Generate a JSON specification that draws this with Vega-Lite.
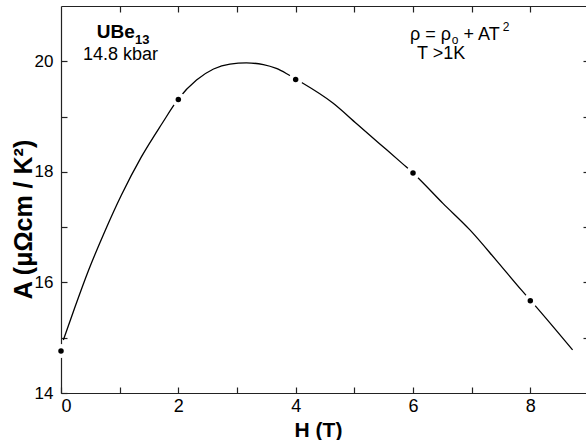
{
  "$schema": "https://vega.github.io/schema/vega-lite/v6.json",
  "width": 528,
  "height": 387,
  "autosize": {"type": "none"},
  "padding": {"left": 61, "top": 6, "right": 0, "bottom": 47},
  "background": "white",
  "config": {
    "view": {"stroke": null},
    "font": "Liberation Sans",
    "axis": {
      "domainColor": "#222",
      "domainWidth": 1.2,
      "tickColor": "#222",
      "tickWidth": 1.2,
      "grid": false,
      "labelFont": "Liberation Sans",
      "labelFontSize": 18,
      "labelColor": "black",
      "titleFont": "Liberation Sans",
      "titleColor": "black"
    }
  },
  "datasets": {
    "curve": [
      {"h": 0.04, "A": 14.96}, {"h": 0.24, "A": 15.56}, {"h": 0.47, "A": 16.22},
      {"h": 0.75, "A": 16.93}, {"h": 1.03, "A": 17.58}, {"h": 1.37, "A": 18.27},
      {"h": 1.72, "A": 18.87}, {"h": 2.0, "A": 19.32}, {"h": 2.31, "A": 19.66},
      {"h": 2.6, "A": 19.86}, {"h": 2.88, "A": 19.95}, {"h": 3.16, "A": 19.97},
      {"h": 3.45, "A": 19.94}, {"h": 3.67, "A": 19.87}, {"h": 3.84, "A": 19.78},
      {"h": 4.0, "A": 19.68}, {"h": 4.64, "A": 19.24}, {"h": 5.04, "A": 18.87},
      {"h": 5.43, "A": 18.51}, {"h": 5.83, "A": 18.14}, {"h": 6.0, "A": 17.98},
      {"h": 6.51, "A": 17.43}, {"h": 6.97, "A": 16.95}, {"h": 7.42, "A": 16.4},
      {"h": 7.85, "A": 15.86}, {"h": 8.0, "A": 15.68}, {"h": 8.72, "A": 14.78}
    ],
    "measured": [
      {"h": 0, "A": 14.76}, {"h": 2, "A": 19.31}, {"h": 4, "A": 19.67},
      {"h": 6, "A": 17.98}, {"h": 8, "A": 15.67}
    ]
  },
  "layer": [
    {
      "data": {"name": "curve"},
      "mark": {"type": "line", "color": "black", "strokeWidth": 1.3, "interpolate": "monotone"},
      "encoding": {
        "x": {
          "field": "h", "type": "quantitative",
          "scale": {"domain": [0, 9], "nice": false, "zero": false},
          "axis": {
            "orient": "bottom",
            "values": [0, 1, 2, 3, 4, 5, 6, 7, 8],
            "labelExpr": "datum.value % 2 === 0 ? datum.label : ''",
            "tickSize": -6,
            "labelPadding": 10,
            "title": "H (T)",
            "titleFontSize": 21,
            "titleFontWeight": "bold",
            "titleX": 257,
            "titleY": 43,
            "titleBaseline": "alphabetic"
          }
        },
        "y": {
          "field": "A", "type": "quantitative",
          "scale": {"domain": [14, 21], "nice": false, "zero": false},
          "axis": {
            "orient": "left",
            "values": [14, 15, 16, 17, 18, 19, 20],
            "labelExpr": "datum.value % 2 === 0 ? datum.label : ''",
            "labelFontSize": 17,
            "tickSize": -6,
            "labelPadding": 14,
            "title": "A (μΩcm / K²)",
            "titleFontSize": 25,
            "titleFontWeight": "bold",
            "titleAngle": -90,
            "titleX": -30,
            "titleY": 213,
            "titleAlign": "center",
            "titleBaseline": "alphabetic"
          }
        }
      }
    },
    {
      "data": {"name": "measured"},
      "mark": {"type": "point", "filled": true, "shape": "circle", "color": "white", "opacity": 1, "size": 200},
      "encoding": {
        "x": {
          "field": "h", "type": "quantitative",
          "scale": {"domain": [0, 9], "nice": false, "zero": false},
          "axis": {"orient": "top", "values": [1, 2, 3, 4, 5, 6, 7, 8], "labels": false, "tickSize": -6, "title": null}
        },
        "y": {
          "field": "A", "type": "quantitative",
          "scale": {"domain": [14, 21], "nice": false, "zero": false},
          "axis": {"orient": "right", "values": [15, 16, 17, 18, 19, 20], "labels": false, "tickSize": -6, "title": null}
        }
      }
    },
    {
      "data": {"name": "measured"},
      "mark": {"type": "point", "filled": true, "shape": "circle", "color": "black", "opacity": 1, "size": 30},
      "encoding": {
        "x": {"field": "h", "type": "quantitative", "scale": {"domain": [0, 9], "nice": false, "zero": false}, "axis": null},
        "y": {"field": "A", "type": "quantitative", "scale": {"domain": [14, 21], "nice": false, "zero": false}, "axis": null}
      }
    },
    {
      "data": {"values": [{"h": 0.61, "A": 20.42, "label": "UBe"}]},
      "mark": {"type": "text", "align": "left", "baseline": "alphabetic", "fontSize": 19, "fontWeight": "bold", "color": "black"},
      "encoding": {
        "x": {"field": "h", "type": "quantitative", "axis": null},
        "y": {"field": "A", "type": "quantitative", "axis": null},
        "text": {"field": "label"}
      }
    },
    {
      "data": {"values": [{"h": 1.26, "A": 20.31, "label": "13"}]},
      "mark": {"type": "text", "align": "left", "baseline": "alphabetic", "fontSize": 13, "fontWeight": "bold", "color": "black"},
      "encoding": {
        "x": {"field": "h", "type": "quantitative", "axis": null},
        "y": {"field": "A", "type": "quantitative", "axis": null},
        "text": {"field": "label"}
      }
    },
    {
      "data": {"values": [
        {"h": 0.375, "A": 20.02, "label": "14.8 kbar"},
        {"h": 6.07, "A": 20.05, "label": "T >1K"},
        {"h": 5.95, "A": 20.38, "label": "ρ = ρ"},
        {"h": 6.86, "A": 20.38, "label": "+ AT"}
      ]},
      "mark": {"type": "text", "align": "left", "baseline": "alphabetic", "fontSize": 18, "color": "black"},
      "encoding": {
        "x": {"field": "h", "type": "quantitative", "axis": null},
        "y": {"field": "A", "type": "quantitative", "axis": null},
        "text": {"field": "label"}
      }
    },
    {
      "data": {"values": [
        {"h": 6.66, "A": 20.31, "label": "o"},
        {"h": 7.53, "A": 20.54, "label": "2"}
      ]},
      "mark": {"type": "text", "align": "left", "baseline": "alphabetic", "fontSize": 12, "color": "black"},
      "encoding": {
        "x": {"field": "h", "type": "quantitative", "axis": null},
        "y": {"field": "A", "type": "quantitative", "axis": null},
        "text": {"field": "label"}
      }
    }
  ],
  "resolve": {"axis": {"x": "independent", "y": "independent"}}
}
